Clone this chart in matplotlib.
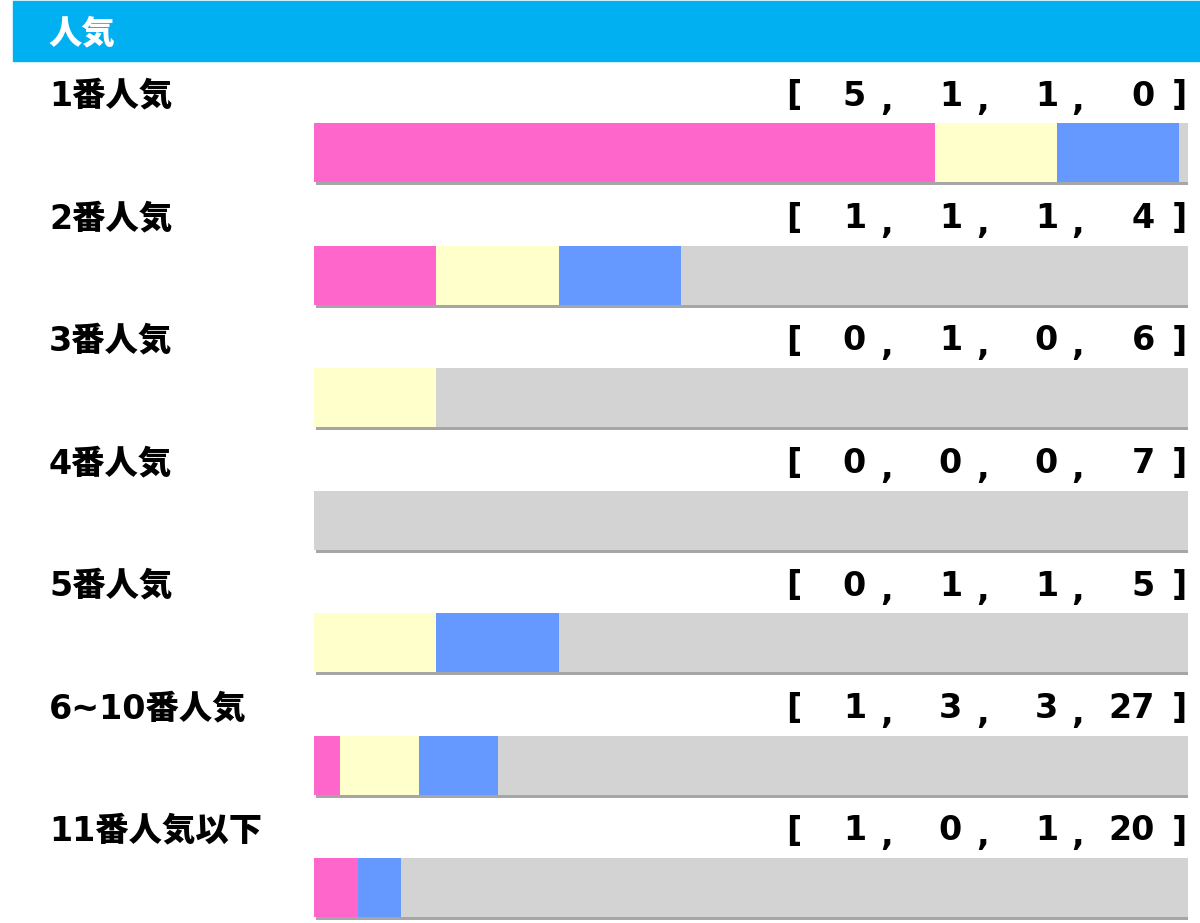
import numpy as np
import matplotlib.pyplot as plt
import matplotlib.patheffects as pe
from matplotlib.patches import Rectangle
from matplotlib.transforms import blended_transform_factory

plt.rcParams['font.family'] = ['DejaVu Sans', 'Noto Sans CJK JP']

# data
title = "人気"
labels = ["1番人気", "2番人気", "3番人気", "4番人気", "5番人気", "6~10番人気", "11番人気以下"]
first = [5, 1, 0, 0, 0, 1, 1]
second = [1, 1, 1, 0, 1, 3, 0]
third = [1, 1, 0, 0, 1, 3, 1]
other = [0, 4, 6, 7, 5, 27, 20]

colors = ["#ff66cc", "#ffffcc", "#6699ff"]
rest_color = "#d3d3d3"
shadow_color = "#a6a6a6"

W, H = 1200, 923
fig = plt.figure(figsize=(W / 100, H / 100), dpi=100)

# header band
fig.patches.append(Rectangle((13 / W, 1 - 61 / H), 1 - 13 / W, 60 / H,
                             transform=fig.transFigure, color="#00b0f0", zorder=0))
fig.text(49 / W, 1 - 34 / H, title, color="white", fontsize=24, fontweight="heavy",
         va="center", ha="left")

# bars axis: row step 122.5 px, first bar centre at 152.5 px
step = 122.5
top_px = 152.5 - step / 2
ax = fig.add_axes([314 / W, 0, (1188 - 314) / W, 1 - top_px / H])
ax.set_xlim(0, 100)
ax.set_ylim(-0.5 + (H - top_px) / step, -0.5)
ax.axis("off")

rows = np.arange(len(labels))
bar_h = 59 / step
counts = np.array([first, second, third, other])
totals = counts.sum(axis=0)
pct = np.round(counts[:3] / totals * 100)

# full grey bar with shadow, then coloured parts on top
ax.barh(rows, 100, height=bar_h, color=rest_color,
        path_effects=[pe.SimplePatchShadow(offset=(1.5, -2.5), shadow_rgbFace=shadow_color, alpha=1),
                      pe.Normal()])
left = np.zeros(len(labels))
for p, c in zip(pct, colors):
    ax.barh(rows, p, left=left, height=bar_h, color=c)
    left += p

tr = blended_transform_factory(fig.transFigure, ax.transData)
label_off = (152.5 - 96) / step
num_right = [866, 962, 1058, 1155]
comma_x = [887, 983, 1078]
fs = 24
for i, lab in enumerate(labels):
    y = i - label_off
    ax.text(49 / W, y, lab, transform=tr, fontsize=fs, fontweight="heavy",
            ha="left", va="center", clip_on=False)
    ax.text(794 / W, y, "[", transform=tr, fontsize=fs, fontweight="bold",
            ha="center", va="center", clip_on=False)
    ax.text(1179 / W, y, "]", transform=tr, fontsize=fs, fontweight="bold",
            ha="center", va="center", clip_on=False)
    for k, v in enumerate(counts[:, i]):
        ax.text(num_right[k] / W, y, str(v), transform=tr, fontsize=fs, fontweight="bold",
                ha="right", va="center", clip_on=False)
    for cx in comma_x:
        ax.text(cx / W, y + 0.04, ",", transform=tr, fontsize=fs, fontweight="bold",
                ha="center", va="center", clip_on=False)

fig.savefig("out.png", dpi=100)
